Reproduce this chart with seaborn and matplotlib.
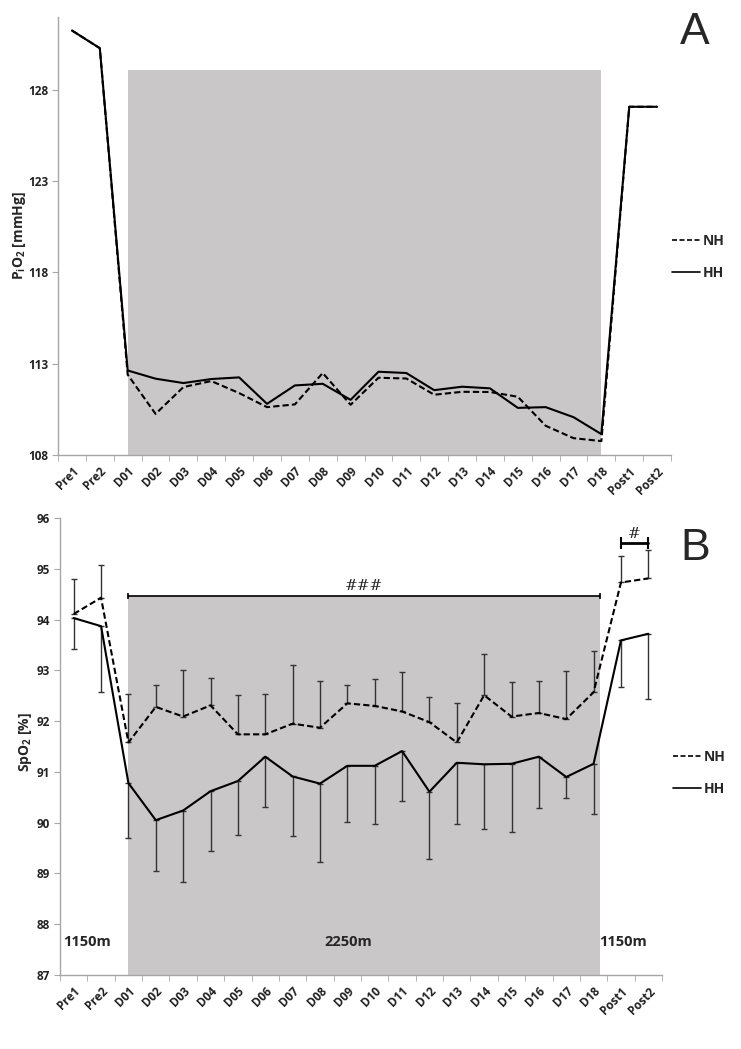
import numpy as np
import pandas as pd
import seaborn as sns
import matplotlib.pyplot as plt
from matplotlib.lines import Line2D

days = ['Pre1', 'Pre2', 'D01', 'D02', 'D03', 'D04', 'D05', 'D06', 'D07', 'D08', 'D09',
        'D10', 'D11', 'D12', 'D13', 'D14', 'D15', 'D16', 'D17', 'D18', 'Post1', 'Post2']

# panel A: inspired O2 pressure [mmHg]
pio2_nh = [131.26, 130.29, 112.40, 110.25, 111.72, 112.05, 111.39, 110.62, 110.77, 112.49, 110.75,
           112.23, 112.19, 111.30, 111.46, 111.45, 111.19, 109.60, 108.92, 108.76, 127.08, 127.08]
pio2_hh = [131.26, 130.29, 112.63, 112.18, 111.94, 112.16, 112.25, 110.80, 111.81, 111.90, 111.02,
           112.56, 112.49, 111.55, 111.74, 111.65, 110.58, 110.62, 110.07, 109.14, 127.08, 127.08]
pio2_shade = 129.1

# panel B: SpO2 [%] mean and SD
spo2_nh = [94.11, 94.43, 91.58, 92.28, 92.09, 92.31, 91.74, 91.74, 91.95, 91.87, 92.35,
           92.30, 92.19, 91.98, 91.58, 92.51, 92.09, 92.16, 92.04, 92.57, 94.73, 94.81]
spo2_nh_sd = [0.68, 0.64, 0.96, 0.44, 0.92, 0.53, 0.77, 0.80, 1.15, 0.92, 0.36,
              0.53, 0.77, 0.49, 0.78, 0.82, 0.68, 0.63, 0.95, 0.82, 0.53, 0.55]
spo2_hh = [94.03, 93.87, 90.78, 90.05, 90.24, 90.62, 90.82, 91.30, 90.91, 90.77, 91.12,
           91.12, 91.41, 90.61, 91.18, 91.15, 91.16, 91.30, 90.90, 91.16, 93.59, 93.72]
spo2_hh_sd = [0.61, 1.29, 1.09, 1.00, 1.40, 1.17, 1.07, 1.00, 1.18, 1.55, 1.10,
              1.15, 0.99, 1.33, 1.20, 1.28, 1.35, 1.02, 0.41, 0.98, 0.92, 1.28]
spo2_shade = 94.46

sns.set_style('ticks')
plt.rcParams['font.family'] = ['Open Sans', 'DejaVu Sans']
plt.rcParams['mathtext.fontset'] = 'custom'
plt.rcParams['mathtext.rm'] = 'Open Sans:bold'
plt.rcParams['mathtext.it'] = 'Open Sans:bold'
plt.rcParams['mathtext.bf'] = 'Open Sans:bold'

shade_col = '#c9c7c8'
spine_col = '#a6a6a6'
x = np.arange(len(days))

fig = plt.figure(figsize=(7.41, 10.49), dpi=100)
axA = fig.add_axes([0.0783, 0.5663, 0.8273, 0.4175])
axB = fig.add_axes([0.0810, 0.0705, 0.8124, 0.4357])


def style_axis(ax, ylim, yticks):
    ax.set_xlim(-0.5, len(days) - 0.5)
    ax.set_ylim(*ylim)
    ax.set_yticks(yticks)
    ax.set_yticklabels([str(t) for t in yticks], fontsize=8.5, fontweight='bold', color='#222222')
    ax.set_xticks(x)
    ax.set_xticklabels(days, rotation=45, ha='right', rotation_mode='anchor',
                       fontsize=8.5, fontweight='bold', color='#222222')
    ax.set_xticks(np.arange(-0.5, len(days)), minor=True)
    ax.tick_params(axis='x', which='major', length=0, pad=7)
    ax.tick_params(axis='x', which='minor', length=4, color=spine_col)
    ax.tick_params(axis='y', length=4, color=spine_col, pad=3)
    for s in ['top', 'right']:
        ax.spines[s].set_visible(False)
    for s in ['left', 'bottom']:
        ax.spines[s].set_color(spine_col)
        ax.spines[s].set_linewidth(1)
    ax.set_xlabel('')


def long_df(nh, hh):
    return pd.DataFrame({
        'x': np.concatenate([x, x]),
        'value': list(nh) + list(hh),
        'group': ['NH'] * len(nh) + ['HH'] * len(hh),
    })


dash_map = {'NH': (3, 1.5), 'HH': ''}
handles = [Line2D([], [], color='black', lw=1.2, ls=(0, (3, 1.5))),
           Line2D([], [], color='black', lw=1.2)]

# ---- panel A
axA.fill_between([2, 19], 108, pio2_shade, color=shade_col, lw=0, zorder=0)
sns.lineplot(data=long_df(pio2_nh, pio2_hh), x='x', y='value', style='group',
             dashes=dash_map, color='black', lw=1.5, legend=False, ax=axA, zorder=3)
style_axis(axA, (108, 132), [108, 113, 118, 123, 128])
axA.set_ylabel('P$_{\\mathregular{i}}$O$_{\\mathregular{2}}$ [mmHg]', fontsize=10, fontweight='bold')
axA.yaxis.set_label_coords(-0.049, 0.5)
axA.legend(handles, ['NH', 'HH'], loc='center left', bbox_to_anchor=(1.002, 0.453),
           frameon=False, handlelength=2.0, handletextpad=0.2, borderpad=0,
           borderaxespad=0, labelspacing=1.3, prop={'weight': 'bold', 'size': 10})

# ---- panel B
axB.fill_between([2, 19.22], 87, spo2_shade, color=shade_col, lw=0, zorder=0)
axB.errorbar(x, spo2_nh, yerr=[np.zeros(len(x)), spo2_nh_sd], fmt='none',
             ecolor='#333333', elinewidth=1, capsize=2.2, capthick=1, zorder=2)
axB.errorbar(x, spo2_hh, yerr=[spo2_hh_sd, np.zeros(len(x))], fmt='none',
             ecolor='#333333', elinewidth=1, capsize=2.2, capthick=1, zorder=2)
sns.lineplot(data=long_df(spo2_nh, spo2_hh), x='x', y='value', style='group',
             dashes=dash_map, color='black', lw=1.5, legend=False, ax=axB, zorder=3)
style_axis(axB, (87, 96), [87, 88, 89, 90, 91, 92, 93, 94, 95, 96])
axB.set_ylabel('SpO$_{\\mathregular{2}}$ [%]', fontsize=10, fontweight='bold')
axB.yaxis.set_label_coords(-0.043, 0.51)
axB.legend(handles, ['NH', 'HH'], loc='center left', bbox_to_anchor=(1.018, 0.442),
           frameon=False, handlelength=2.0, handletextpad=0.2, borderpad=0,
           borderaxespad=0, labelspacing=1.3, prop={'weight': 'bold', 'size': 10})

# significance brackets
axB.plot([2, 19.22], [spo2_shade, spo2_shade], color='black', lw=1.2, zorder=4)
axB.plot([2, 19.22], [spo2_shade, spo2_shade], ls='none', marker='|', ms=5,
         mew=1.2, color='black', zorder=4)
axB.text(10.6, 94.66, '###', ha='center', va='center', fontsize=11,
         family=['DejaVu Serif'])
axB.plot([20, 21], [95.51, 95.51], color='black', lw=2, zorder=4)
axB.plot([20, 21], [95.51, 95.51], ls='none', marker='|', ms=8,
         mew=1.5, color='black', zorder=4)
axB.text(20.5, 95.69, '#', ha='center', va='center', fontsize=11,
         family=['DejaVu Serif'])

# altitude labels
for xi, lab in [(0.47, '1150m'), (10.05, '2250m'), (20.08, '1150m')]:
    axB.text(xi, 87.65, lab, ha='center', va='center', fontsize=10.5, fontweight='bold')

fig.text(695 / 741, 1 - 32.5 / 1049, 'A', ha='center', va='center', fontsize=32,
         family=['Liberation Sans'])
fig.text(695 / 741, 1 - 548 / 1049, 'B', ha='center', va='center', fontsize=32,
         family=['Liberation Sans'])

fig.savefig('out.png', dpi=100)
